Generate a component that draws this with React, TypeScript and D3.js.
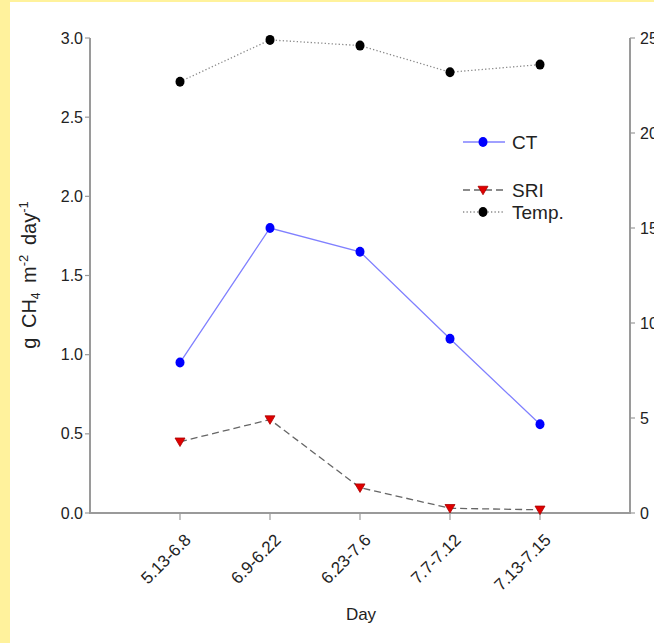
import React from "react";
import * as d3 from "d3";

const categories = ["5.13-6.8", "6.9-6.22", "6.23-7.6", "7.7-7.12", "7.13-7.15"];
const ctValues = [0.95, 1.80, 1.65, 1.10, 0.56];
const sriValues = [0.45, 0.59, 0.16, 0.03, 0.02];
const tempValues = [22.7, 24.9, 24.6, 23.2, 23.6];
const leftTicks = [0, 0.5, 1.0, 1.5, 2.0, 2.5, 3.0];
const rightTicks = [0, 5, 10, 15, 20, 25];

const W = 654;
const H = 643;
const FONT = "Liberation Sans, Arial, sans-serif";

export default function App() {
  const x = d3.scalePoint<string>().domain(categories).range([90, 630]).padding(1);
  const yL = d3.scaleLinear().domain([0, 3]).range([513, 38]);
  const yR = d3.scaleLinear().domain([0, 25]).range([513, 38]);
  const axisColor = "#9a9a9a";
  const textColor = "#222";

  const ctLine = d3.line<number>().x((_, i) => x(categories[i])!).y((d) => yL(d));
  const tempLine = d3.line<number>().x((_, i) => x(categories[i])!).y((d) => yR(d));

  const tri = (cx: number, cy: number, s: number) =>
    `M${cx - s},${cy - s * 0.75} L${cx + s},${cy - s * 0.75} L${cx},${cy + s * 0.95} Z`;

  const legY = { ct: 142, sri: 190, temp: 212 };

  return (
    <svg width={W} height={H} style={{ position: "absolute", left: 0, top: 0 }} fontFamily={FONT}>
      <rect x={0} y={0} width={W} height={H} fill="#fff" />
      <rect x={0} y={0} width={W} height={2} fill="#fff29c" />
      <rect x={0} y={0} width={10} height={H} fill="#fff29c" />

      {/* axes */}
      <line x1={90} x2={90} y1={yL(3)} y2={yL(0)} stroke={axisColor} strokeWidth={2} />
      <line x1={630} x2={630} y1={yR(25)} y2={yR(0)} stroke={axisColor} strokeWidth={2} />
      <line x1={89} x2={631} y1={513} y2={513} stroke={axisColor} strokeWidth={2} />

      {leftTicks.map((t) => (
        <g key={"l" + t}>
          <line x1={85} x2={90} y1={yL(t)} y2={yL(t)} stroke={axisColor} strokeWidth={1.2} />
          <text x={83} y={yL(t)} dy="0.35em" textAnchor="end" fontSize={16} fill={textColor}>
            {d3.format(".1f")(t)}
          </text>
        </g>
      ))}
      {rightTicks.map((t) => (
        <g key={"r" + t}>
          <line x1={630} x2={635} y1={yR(t)} y2={yR(t)} stroke={axisColor} strokeWidth={1.2} />
          <text x={640} y={yR(t)} dy="0.35em" textAnchor="start" fontSize={16} fill={textColor}>
            {t}
          </text>
        </g>
      ))}
      {categories.map((c) => (
        <g key={c}>
          <line x1={x(c)!} x2={x(c)!} y1={513} y2={520} stroke={axisColor} strokeWidth={1.2} />
          <text
            transform={`translate(${x(c)! + 12},${541}) rotate(-45)`}
            textAnchor="end"
            fontSize={17}
            fill={textColor}
          >
            {c}
          </text>
        </g>
      ))}

      <text x={361} y={620} textAnchor="middle" fontSize={17} fill={textColor}>
        Day
      </text>
      <text
        transform="translate(36,275) rotate(-90)"
        textAnchor="middle"
        fontSize={20}
        fill={textColor}
        wordSpacing={4}
      >
        g CH<tspan fontSize={12} dy={4}>4</tspan>
        <tspan dy={-4}> m</tspan>
        <tspan fontSize={13} dy={-8}>-2</tspan>
        <tspan dy={8}> day</tspan>
        <tspan fontSize={13} dy={-8}>-1</tspan>
      </text>

      {/* Temp */}
      <path d={tempLine(tempValues)!} fill="none" stroke="#8a8a8a" strokeWidth={1.3} strokeDasharray="1.3,2.2" />
      {tempValues.map((v, i) => (
        <ellipse key={"t" + i} cx={x(categories[i])!} cy={yR(v)} rx={4.5} ry={5} fill="#000" />
      ))}

      {/* CT */}
      <path d={ctLine(ctValues)!} fill="none" stroke="#8080ff" strokeWidth={1.3} />
      {ctValues.map((v, i) => (
        <ellipse key={"c" + i} cx={x(categories[i])!} cy={yL(v)} rx={4.5} ry={5} fill="#0000ff" />
      ))}

      {/* SRI */}
      <path d={ctLine(sriValues)!} fill="none" stroke="#666" strokeWidth={1.3} strokeDasharray="7,4" />
      {sriValues.map((v, i) => (
        <path key={"s" + i} d={tri(x(categories[i])!, yL(v), 5)} fill="#e00000" stroke="#a00" strokeWidth={0.8} />
      ))}

      {/* legend */}
      <line x1={463} x2={505} y1={legY.ct} y2={legY.ct} stroke="#8080ff" strokeWidth={1.3} />
      <ellipse cx={483} cy={legY.ct} rx={4.5} ry={5} fill="#0000ff" />
      <text x={512} y={legY.ct} dy="0.36em" fontSize={19} fill={textColor}>CT</text>

      <line x1={463} x2={503} y1={legY.sri} y2={legY.sri} stroke="#666" strokeWidth={1.3} strokeDasharray="7,4" />
      <path d={tri(483, legY.sri, 5)} fill="#e00000" stroke="#a00" strokeWidth={0.8} />
      <text x={512} y={legY.sri} dy="0.36em" fontSize={19} fill={textColor}>SRI</text>

      <line x1={463} x2={505} y1={legY.temp} y2={legY.temp} stroke="#8a8a8a" strokeWidth={1.3} strokeDasharray="1.3,2.2" />
      <ellipse cx={483} cy={legY.temp} rx={4.5} ry={5} fill="#000" />
      <text x={512} y={legY.temp} dy="0.36em" fontSize={19} fill={textColor}>Temp.</text>
    </svg>
  );
}
